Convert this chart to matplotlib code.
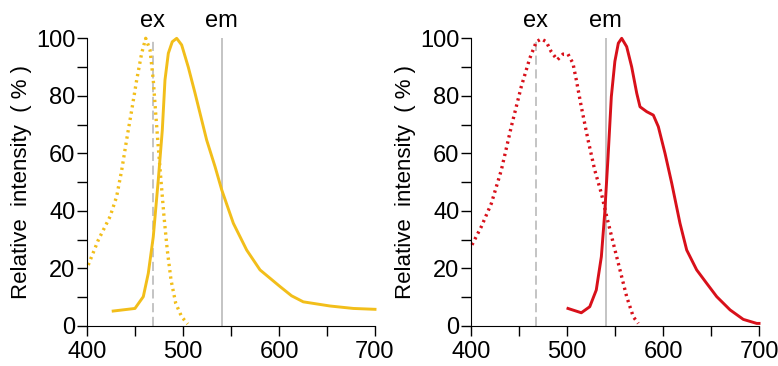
import numpy as np
import matplotlib.pyplot as plt

plt.rcParams['font.family'] = ['Liberation Sans', 'DejaVu Sans']

# Left dye: excitation (dotted) and emission (solid)
ex1_wl = [401, 411.5, 423.7, 430.6, 435.9, 441, 446.3, 451.5, 456.7, 460.9,
          465.4, 468.8, 471.3, 474, 476.8, 480, 483.4, 487.3, 492.2, 498.4, 504.7]
ex1_int = [21.2, 29.9, 38, 45, 54.2, 64.7, 75, 85.5, 94.8, 100,
           96, 85.5, 74, 62.3, 50.7, 38, 26.4, 16, 7.9, 3.2, 0.7]
em1_wl = [427, 449.7, 458.4, 463.6, 468.8, 474, 478.2, 481, 484.5, 488.6,
          493.2, 498.4, 505.3, 512.3, 524.5, 533.2, 540.2, 552.3, 566.2,
          580.1, 601, 613, 625.2, 653.1, 677.4, 700]
em1_int = [5.2, 6.1, 10.2, 18.3, 31, 50.7, 68, 85.5, 94.8, 98.8,
           100, 97.7, 90, 81, 64.6, 55.4, 47.3, 35.7, 26.4,
           19.5, 13.7, 10.5, 8.4, 6.95, 6.1, 5.8]

# Right dye
ex2_wl = [400.7, 410.4, 420.9, 431.3, 441.7, 452.1, 460.9, 467.8, 473, 478.2,
          483.4, 489.7, 495.6, 500.8, 506, 509.5, 514.7, 521.7, 528.7, 535.6,
          541.2, 548.1, 555, 562, 568.9, 574.1]
ex2_int = [28.2, 34.5, 42.6, 54.2, 69.3, 83.2, 93, 98.8, 99.8, 98.8,
           95.3, 92.5, 94.5, 94.5, 91.3, 85.5, 76.2, 64.7, 54.2, 46.1,
           38, 28.7, 19.5, 10.2, 3.2, 0.9]
em2_wl = [500.8, 514.7, 523.5, 530.3, 535.6, 539.1, 542.6, 546, 549.7, 553.3,
          556.8, 562, 567.2, 572.5, 575.9, 582.9, 589.8, 595, 602, 609, 617.6,
          624.6, 635, 645.5, 655.9, 669.8, 683.6, 697.6, 700]
em2_int = [6.1, 4.6, 6.7, 12.5, 24.1, 39.2, 58.9, 79.7, 92, 98.3,
           100, 97.1, 90.1, 80.9, 76.2, 74.5, 73.3, 69.3, 60, 49.6, 35.7,
           26.4, 19.5, 14.8, 10.2, 5.6, 2.3, 0.9, 0.9]

ex_line = [468, 467]
em_line = [540, 540]
colors = ['#F2BE1A', '#D8101A']

fig = plt.figure(figsize=(7.78, 3.66), dpi=100)
ax1 = fig.add_axes([0.1122, 0.1093, 0.3698, 0.786])
ax2 = fig.add_axes([0.6058, 0.1093, 0.3698, 0.786])

panels = [(ax1, ex1_wl, ex1_int, em1_wl, em1_int),
          (ax2, ex2_wl, ex2_int, em2_wl, em2_int)]

for i, (ax, xw, xi, mw, mi) in enumerate(panels):
    ax.axvline(ex_line[i], color='#b4b4b4', lw=1.1, ls=(0, (6, 3)), zorder=1)
    ax.axvline(em_line[i], color='#b4b4b4', lw=1.1, zorder=1)
    ax.plot(xw, xi, ls=(0, (0.7, 1.2)), lw=2.4, color=colors[i], zorder=2,
            clip_on=False)
    ax.plot(mw, mi, ls='-', lw=2.1, color=colors[i], zorder=3,
            solid_joinstyle='round', clip_on=False)
    ax.text(ex_line[i], 104, 'ex', ha='center', va='baseline', fontsize=17)
    ax.text(em_line[i], 104, 'em', ha='center', va='baseline', fontsize=17)

    ax.set_xlim(400, 700)
    ax.set_ylim(0, 100)
    ax.set_xticks([400, 500, 600, 700])
    ax.set_xticks([450, 550, 650], minor=True)
    ax.set_yticks([0, 20, 40, 60, 80, 100])
    ax.set_yticks([10, 30, 50, 70, 90], minor=True)
    ax.tick_params(which='both', direction='out', length=7.5, width=1,
                   labelsize=17)
    ax.tick_params(axis='x', pad=3)
    ax.tick_params(axis='y', pad=1)
    ax.spines['top'].set_visible(False)
    ax.spines['right'].set_visible(False)
    ax.set_ylabel('Relative  intensity  ( % )', fontsize=16, labelpad=3)

plt.savefig('out.png', dpi=100)
